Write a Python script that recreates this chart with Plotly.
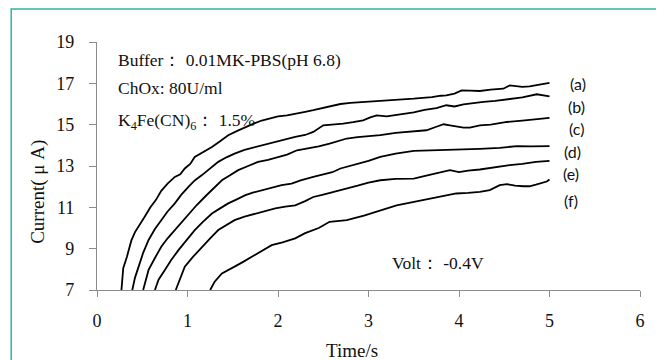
import plotly.graph_objects as go

# ---- data ----
t_a = [0.27,0.29,0.33,0.38,0.42,0.46,0.52,0.59,0.65,0.71,0.78,0.86,0.92,0.97,1.03,1.08,1.17,1.27,1.36,1.45,1.55,1.64,1.73,1.82,1.91,2.0,2.1,2.19,2.3,2.39,2.5,2.6,2.69,2.8,2.9,3.0,3.13,3.25,3.37,3.5,3.6,3.7,3.8,3.86,3.95,4.03,4.12,4.23,4.35,4.49,4.56,4.63,4.7,4.78,4.86,4.93,5.0]
i_a = [7.0,8.05,8.6,9.4,9.8,10.06,10.5,11.0,11.35,11.8,12.15,12.47,12.6,12.88,13.1,13.44,13.65,13.92,14.2,14.49,14.7,14.89,15.05,15.2,15.3,15.4,15.45,15.54,15.62,15.7,15.82,15.9,16.0,16.05,16.08,16.1,16.13,16.15,16.2,16.26,16.3,16.33,16.4,16.42,16.5,16.66,16.65,16.63,16.7,16.74,16.9,16.88,16.83,16.85,16.92,16.95,17.02]

t_b = [0.39,0.42,0.46,0.51,0.57,0.64,0.71,0.78,0.86,0.93,1.01,1.08,1.16,1.25,1.34,1.43,1.52,1.63,1.75,1.86,1.97,2.08,2.19,2.3,2.39,2.5,2.6,2.72,2.83,2.94,3.02,3.09,3.2,3.35,3.5,3.62,3.75,3.86,3.95,4.05,4.15,4.27,4.4,4.55,4.7,4.86,4.93,5.0]
i_b = [7.0,7.6,8.13,8.8,9.42,9.95,10.38,10.8,11.19,11.6,11.99,12.3,12.56,12.9,13.2,13.42,13.6,13.78,13.92,14.05,14.16,14.3,14.41,14.5,14.65,14.97,15.0,15.05,15.12,15.21,15.35,15.45,15.4,15.5,15.6,15.72,15.8,15.94,15.88,15.98,16.05,16.1,16.15,16.25,16.32,16.47,16.42,16.37]

t_c = [0.51,0.54,0.57,0.64,0.71,0.78,0.86,0.93,1.01,1.1,1.19,1.28,1.38,1.47,1.56,1.67,1.78,1.89,2.0,2.1,2.21,2.35,2.45,2.57,2.67,2.76,2.88,3.0,3.13,3.3,3.45,3.64,3.75,3.83,3.9,4.05,4.12,4.23,4.35,4.53,4.7,4.85,5.0]
i_c = [7.0,7.5,7.97,8.55,9.09,9.5,9.9,10.3,10.7,11.1,11.5,11.9,12.31,12.55,12.8,13.0,13.2,13.3,13.44,13.55,13.76,13.85,13.95,14.08,14.2,14.33,14.4,14.45,14.49,14.6,14.65,14.73,14.9,15.02,14.97,14.86,14.86,14.97,15.0,15.13,15.2,15.25,15.33]

t_d = [0.64,0.68,0.75,0.82,0.9,0.99,1.08,1.17,1.27,1.36,1.45,1.55,1.64,1.73,1.82,1.93,2.04,2.15,2.25,2.39,2.5,2.6,2.69,2.8,2.9,3.0,3.13,3.3,3.5,3.7,3.86,4.05,4.23,4.45,4.64,4.8,5.0]
i_d = [7.0,7.5,7.97,8.45,8.93,9.4,9.9,10.3,10.7,10.95,11.19,11.4,11.59,11.72,11.83,11.95,12.07,12.15,12.3,12.47,12.6,12.7,12.88,13.0,13.12,13.25,13.44,13.6,13.73,13.75,13.76,13.8,13.83,13.88,13.96,13.95,13.96]

t_e = [0.87,0.92,0.97,1.06,1.16,1.25,1.34,1.43,1.52,1.63,1.75,1.86,1.97,2.08,2.19,2.3,2.39,2.5,2.62,2.76,2.88,3.0,3.13,3.3,3.5,3.65,3.79,3.9,4.0,4.1,4.23,4.4,4.56,4.7,4.85,5.0]
i_e = [7.0,7.6,8.13,8.6,9.09,9.5,9.9,10.15,10.38,10.55,10.7,10.82,10.95,11.03,11.1,11.3,11.5,11.62,11.75,11.91,12.05,12.2,12.31,12.38,12.39,12.55,12.71,12.8,12.7,12.78,12.83,12.95,13.04,13.1,13.2,13.25]

t_f = [1.25,1.3,1.38,1.45,1.52,1.61,1.71,1.82,1.93,2.05,2.19,2.3,2.45,2.57,2.76,2.95,3.13,3.31,3.42,3.6,3.75,3.86,3.97,4.1,4.23,4.34,4.45,4.53,4.62,4.71,4.78,4.85,4.93,4.97,5.0]
i_f = [7.0,7.4,7.8,7.95,8.13,8.35,8.61,8.9,9.17,9.3,9.5,9.75,10.0,10.3,10.38,10.6,10.86,11.1,11.19,11.35,11.5,11.59,11.67,11.7,11.75,11.83,12.07,12.12,12.05,12.02,12.02,12.1,12.18,12.25,12.35]

series_names = ["(a)", "(b)", "(c)", "(d)", "(e)", "(f)"]
label_t = [5.31, 5.30, 5.30, 5.25, 5.24, 5.24]
label_i = [17.0, 15.89, 14.8, 13.71, 12.64, 11.31]

x_ticks = [0, 1, 2, 3, 4, 5, 6]
y_ticks = [7, 9, 11, 13, 15, 17, 19]

SERIF = "Liberation Serif, Times New Roman, serif"
SANS = "Lato, Carlito, Liberation Sans, sans-serif"
INK = "#111"

fig = go.Figure()
for tx, iy, nm in zip([t_a, t_b, t_c, t_d, t_e, t_f],
                      [i_a, i_b, i_c, i_d, i_e, i_f], series_names):
    fig.add_trace(go.Scatter(x=tx, y=iy, mode="lines", name=nm,
                             line=dict(color="black", width=1.8),
                             showlegend=False, hoverinfo="skip"))

for nm, lx, ly in zip(series_names, label_t, label_i):
    fig.add_annotation(x=lx, y=ly, text=nm, showarrow=False,
                       xanchor="center", yanchor="middle",
                       font=dict(family=SANS, size=16, color=INK))

text_font = dict(family=SERIF, size=17.5, color=INK)
fig.add_annotation(x=0.21, y=18.11, text="Buffer： 0.01MK-PBS(pH 6.8)", xanchor="left",
                   yanchor="middle", showarrow=False, font=text_font)
fig.add_annotation(x=0.21, y=16.76, text="ChOx: 80U/ml", xanchor="left",
                   yanchor="middle", showarrow=False, font=text_font)
fig.add_annotation(x=0.21, y=15.16, text="K<sub>4</sub>Fe(CN)<sub>6</sub>： 1.5%", xanchor="left",
                   yanchor="middle", showarrow=False, font=text_font)
fig.add_annotation(x=3.24, y=8.3, text="Volt： -0.4V", xanchor="left",
                   yanchor="middle", showarrow=False, font=text_font)

# axis titles (placed as in the reference)
title_font = dict(family=SERIF, size=19, color=INK)
fig.add_annotation(xref="paper", yref="paper", x=-0.109, y=0.395, text="Current( μ A)",
                   textangle=-90, xanchor="center", yanchor="middle",
                   showarrow=False, font=title_font)
fig.add_annotation(xref="paper", yref="paper", x=0.47, y=-0.242, text="Time/s",
                   xanchor="center", yanchor="middle",
                   showarrow=False, font=title_font)

# teal frame around the figure
fig.add_shape(type="rect", xref="paper", yref="paper",
              x0=-0.158, y0=-0.5, x1=1.2, y1=1.133,
              line=dict(color="#2bb5a0", width=1.5), layer="below")

# page body adds an 8px offset, so margins are shifted to compensate
fig.update_layout(
    width=664, height=360,
    margin=dict(l=89, r=32, t=34, b=78),
    paper_bgcolor="white", plot_bgcolor="white",
    font=dict(family=SERIF, color=INK),
)
fig.update_xaxes(range=[0, 6], tickvals=x_ticks, showgrid=False, zeroline=False,
                 automargin=False,
                 showline=True, linecolor="#8c8c8c", linewidth=1.2,
                 ticks="outside", ticklen=6, tickcolor="#8c8c8c",
                 tickfont=dict(family=SERIF, size=18, color=INK),
                 ticklabelstandoff=8)
fig.update_yaxes(range=[7, 19], tickvals=y_ticks, showgrid=False, zeroline=False,
                 automargin=False,
                 showline=True, linecolor="#8c8c8c", linewidth=1.2,
                 ticks="outside", ticklen=7, tickcolor="#8c8c8c",
                 tickfont=dict(family=SERIF, size=18, color=INK),
                 ticklabelstandoff=11)

fig.write_html("out.html")
